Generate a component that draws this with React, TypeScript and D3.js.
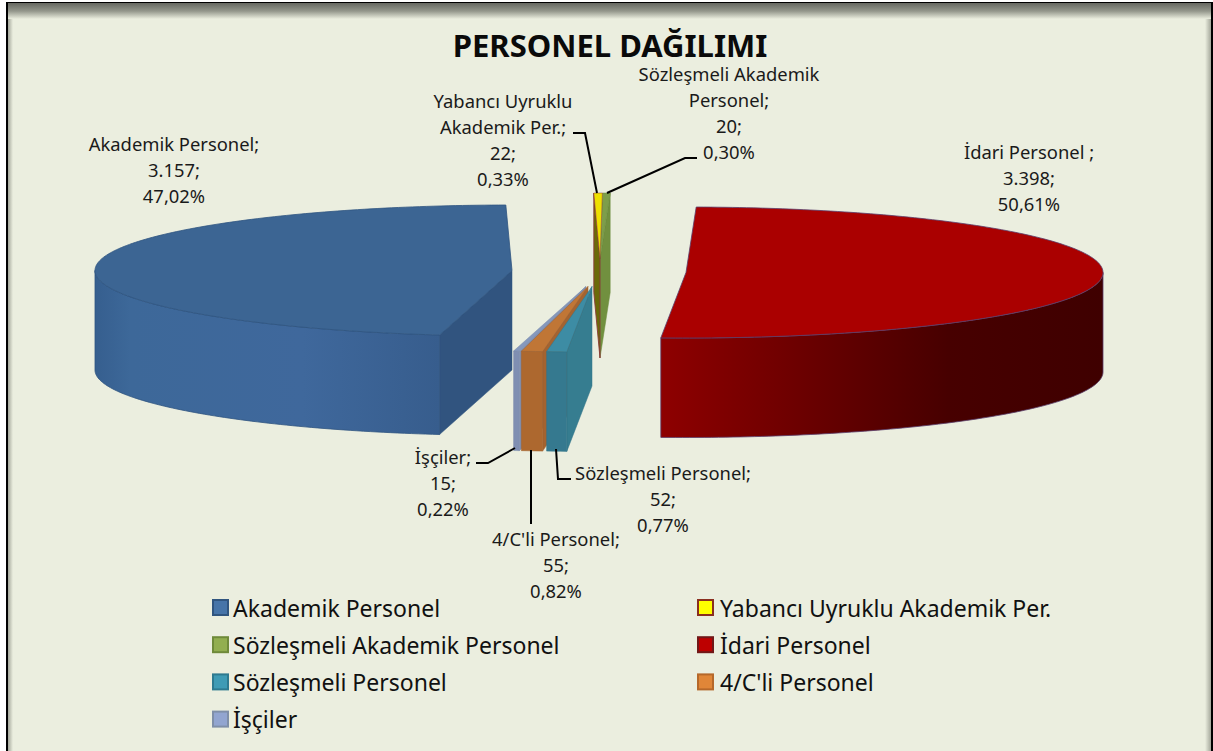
import React from "react";
import * as d3 from "d3";

const W = 1213, H = 751;
const categories = ["Akademik Personel","Yabancı Uyruklu Akademik Per.","Sözleşmeli Akademik Personel","İdari Personel","Sözleşmeli Personel","4/C'li Personel","İşçiler"];
const values = [3157,22,20,3398,52,55,15];
const centersX = [512,600,600,686,592,588,586];
const centersY = [270.5,258.5,258.5,272.5,286.5,286.5,286.5];
const topFill = ["#3c6593","#eee000","#7d9e4a","#aa0000","#3d8ca4","#c07636","#8598bd"];
const rimFill = ["url(#rimBlue)","#6b6a08","#71903f","url(#rimRed)","#35798f","#ad682f","#7f8fb2"];
const cutFill = ["#31547f","#6b6a08","#71903f","#8e0000","#367d90","#a46330","#7f8fb2"];
const edge = ["#2f5480","#8a3a3a","#6b8a3c","#5a3d6b","#327488","#a0602a","#7a8aab"];
const legendFill = ["#4674a8","#ffff00","#92ae50","#bd0000","#3f9bb5","#e08638","#92a5d0"];
const legendStroke = ["#30557f","#8a2f20","#6f8a3a","#701818","#2e7a90","#b5682a","#7f8fa8"];
const legendRows = [0,0,1,1,2,2,3];
const legendCols = [0,1,0,1,0,1,0];

const labels: { lines: string[]; x: number; y: number }[] = [
  { lines: ["Akademik Personel;","3.157;","47,02%"], x: 174, y: 151 },
  { lines: ["Yabancı Uyruklu","Akademik Per.;","22;","0,33%"], x: 503, y: 108 },
  { lines: ["Sözleşmeli Akademik","Personel;","20;","0,30%"], x: 729, y: 81 },
  { lines: ["İdari Personel ;","3.398;","50,61%"], x: 1029, y: 159 },
  { lines: ["Sözleşmeli Personel;","52;","0,77%"], x: 663, y: 480 },
  { lines: ["4/C'li Personel;","55;","0,82%"], x: 556, y: 546 },
  { lines: ["İşçiler;","15;","0,22%"], x: 443, y: 464 },
];
const leaders: [number,number][][] = [
  [[573,133],[585,133],[597,193]],
  [[697,158],[685,158],[607,193]],
  [[476,463],[488,463],[515,448]],
  [[531,450],[531,524]],
  [[556,449],[558,479],[571,479]],
];

const RX = 417, RY = 65.5, DEPTH = 99.5;
const FONT = "'Noto Sans', sans-serif";
const deg = Math.PI / 180;

const pieGen = d3.pie<number>().sort(null).startAngle(190 * deg).endAngle(550 * deg);
const arcs = pieGen(values);
const lineGen = d3.line<[number,number]>();

function pt(i: number, a: number, dz = 0): [number, number] {
  const sx = d3.scaleLinear([-1, 1], [centersX[i] - RX, centersX[i] + RX]);
  const sy = d3.scaleLinear([-1, 1], [centersY[i] - RY, centersY[i] + RY]);
  return [sx(Math.sin(a)), sy(-Math.cos(a)) + dz];
}
function sample(i: number, a0: number, a1: number, dz = 0): [number, number][] {
  const n = Math.max(2, Math.ceil(Math.abs(a1 - a0) / deg));
  return d3.range(n + 1).map((k) => pt(i, a0 + ((a1 - a0) * k) / n, dz));
}
const apex = (i: number, dz = 0): [number, number] => [centersX[i], centersY[i] + dz];

function Slice({ i }: { i: number }) {
  const a0 = arcs[i].startAngle, a1 = arcs[i].endAngle;
  const topPts = [apex(i), ...sample(i, a0, a1)];
  const norm = (a: number) => ((a % (2 * Math.PI)) + 2 * Math.PI) % (2 * Math.PI);
  const s = norm(a0), e = s + (a1 - a0);
  const r0 = Math.max(s, 90 * deg), r1 = Math.min(e, 270 * deg);
  const hasRim = r1 > r0;
  const rim = hasRim ? [...sample(i, r0, r1), ...sample(i, r1, r0, DEPTH)] : [];
  const faces: [number,number][][] = [];
  const face = (a: number): [number,number][] => [apex(i), pt(i, a), pt(i, a, DEPTH), apex(i, DEPTH)];
  if (i === 0 || i === 1 || i >= 4) faces.push(face(a0));
  if (i === 2) faces.push(face(a1));
  const sw = i === 0 || i === 3 ? 0.8 : 0.5;
  return (
    <g>
      {faces.map((f, k) => <path key={k} d={lineGen(f)! + "Z"} fill={cutFill[i]} stroke={edge[i]} strokeWidth={i === 1 ? 0.9 : 0.5} />)}
      {hasRim && <path d={lineGen(rim)! + "Z"} fill={rimFill[i]} stroke={edge[i]} strokeWidth={sw} />}
      <path d={lineGen(topPts)! + "Z"} fill={topFill[i]} stroke={edge[i]} strokeWidth={sw} />
    </g>
  );
}

export default function App() {
  const order = [0, 3, 2, 1, 6, 5, 4];
  return (
    <svg width={W} height={H} style={{ position: "absolute", left: 0, top: 0, background: "#fff" }}>
      <defs>
        <linearGradient id="topShade" x1="0" x2="0" y1="0" y2="1">
          <stop offset="0" stopColor="#666861" />
          <stop offset="0.5" stopColor="#93968b" />
          <stop offset="1" stopColor="#ebeedf" />
        </linearGradient>
        <linearGradient id="leftShade" x1="0" x2="1" y1="0" y2="0">
          <stop offset="0" stopColor="#a4a79b" />
          <stop offset="1" stopColor="#ebeedf" />
        </linearGradient>
        <linearGradient id="rightShade" x1="1" x2="0" y1="0" y2="0">
          <stop offset="0" stopColor="#a4a79b" />
          <stop offset="1" stopColor="#ebeedf" />
        </linearGradient>
        <linearGradient id="rimBlue" gradientUnits="userSpaceOnUse" x1="96" x2="440" y1="0" y2="0">
          <stop offset="0" stopColor="#365f8f" />
          <stop offset="0.1" stopColor="#3d6899" />
          <stop offset="0.6" stopColor="#3f689c" />
          <stop offset="1" stopColor="#375d8d" />
        </linearGradient>
        <linearGradient id="rimRed" gradientUnits="userSpaceOnUse" x1="661" x2="1103" y1="0" y2="0">
          <stop offset="0" stopColor="#8e0000" />
          <stop offset="0.65" stopColor="#470000" />
          <stop offset="1" stopColor="#3f0000" />
        </linearGradient>
      </defs>

      <rect x={6} y={2} width={1207} height={749} fill="#000" />
      <rect x={8} y={3} width={1203} height={748} fill="#ebeedf" />
      <rect x={8} y={3} width={5} height={748} fill="url(#leftShade)" />
      <rect x={1205} y={3} width={6} height={748} fill="url(#rightShade)" />
      <rect x={8} y={3} width={1203} height={16} fill="url(#topShade)" />

      <text x={610} y={57} textAnchor="middle" fontFamily={FONT} fontWeight={700} fontSize={31} fill="#0a0a0a">PERSONEL DAĞILIMI</text>

      {order.map((i) => <Slice key={i} i={i} />)}

      {leaders.map((l, i) => <path key={i} d={lineGen(l)!} fill="none" stroke="#000" strokeWidth={2} />)}

      {labels.map((l, i) => (
        <text key={i} fontFamily={FONT} fontSize={18.4} fill="#1a1a1a" textAnchor="middle">
          {l.lines.map((t, k) => <tspan key={k} x={l.x} y={l.y + k * 26}>{t}</tspan>)}
        </text>
      ))}

      {categories.map((c, i) => {
        const y = 607.5 + legendRows[i] * 37.2;
        const x = legendCols[i] ? 698 : 213;
        const tx = legendCols[i] ? x + 22 : x + 20;
        return (
          <g key={c}>
            <rect x={x} y={y - 7.5} width={15} height={15} fill={legendFill[i]} stroke={legendStroke[i]} strokeWidth={2} />
            <text x={tx} y={y + 9} fontFamily={FONT} fontSize={23} fill="#111">{c}</text>
          </g>
        );
      })}
    </svg>
  );
}
